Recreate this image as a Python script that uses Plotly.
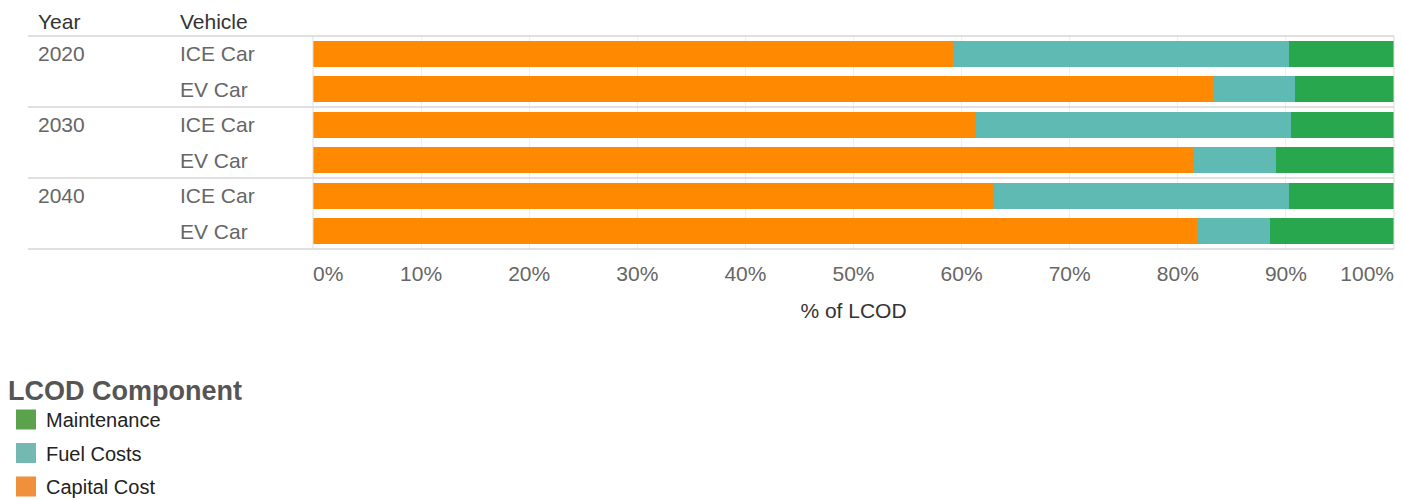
import plotly.graph_objects as go

# LCOD breakdown by year and vehicle type (% of levelised cost)
years = ["2020", "2030", "2040"]
vehicles = ["ICE Car", "EV Car"]
capital_cost = [59.2, 83.3, 61.3, 81.5, 63.0, 81.9]
fuel_costs = [31.1, 7.5, 29.2, 7.6, 27.3, 6.6]
maintenance = [9.7, 9.2, 9.5, 10.9, 9.7, 11.5]

tick_values = [0, 10, 20, 30, 40, 50, 60, 70, 80, 90, 100]
tick_labels = ["0%", "10%", "20%", "30%", "40%", "50%", "60%", "70%", "80%", "90%", "100%"]

# (name, values, bar colour, legend swatch colour) in stacking order
components = [
    ("Capital Cost", capital_cost, "#ff8900", "#f0903a"),
    ("Fuel Costs", fuel_costs, "#5ebab2", "#74b8b2"),
    ("Maintenance", maintenance, "#29a74f", "#5aa24c"),
]

FONT = "Liberation Sans"
TXT = 21
rows = [f"{y} {v}" for y in years for v in vehicles]

fig = go.Figure()
for name, vals, bar_color, _ in components:
    fig.add_trace(go.Bar(
        x=vals, y=rows, orientation="h", name=name,
        marker=dict(color=bar_color, line=dict(width=0)),
        width=0.74, showlegend=False, hoverinfo="x+name",
    ))

# legend entries with large square swatches, top entry = last stacked component;
# they also anchor the two overlay axes carrying the end tick labels
legend_axes = ["x2", "x3", "x"]
for i, (name, _, _, swatch) in enumerate(reversed(components)):
    fig.add_trace(go.Scatter(
        x=[None], y=[None], mode="markers", name=name,
        legendgroup=f"g{i}", xaxis=legend_axes[i],
        marker=dict(symbol="square", size=16, color=swatch,
                    line=dict(width=4, color=swatch)),
    ))

L, R, T, B = 313, 9, 36, 251
W, H = 1403, 500
pw = W - L - R

def px_to_paper(px):
    return (px - L) / pw

line_col = "#d6d6d6"
shapes = []
# frame lines and group separators
for yp in (0, 1):
    shapes.append(dict(type="line", xref="paper", yref="paper",
                       x0=px_to_paper(28), x1=1, y0=yp, y1=yp,
                       line=dict(color=line_col, width=1.5)))
for k in range(1, len(years)):
    sep = k * len(vehicles) - 0.5
    shapes.append(dict(type="line", xref="paper", yref="y",
                       x0=px_to_paper(28), x1=1, y0=sep, y1=sep,
                       line=dict(color=line_col, width=1.5)))
for xp in (0, 1):
    shapes.append(dict(type="line", xref="paper", yref="paper",
                       x0=xp, x1=xp, y0=0, y1=1,
                       line=dict(color="#dcdcdc", width=1)))

annotations = [
    dict(text="Year", xref="paper", yref="paper", x=px_to_paper(36), y=1,
         xanchor="left", yanchor="bottom", yshift=1, showarrow=False,
         font=dict(family=FONT, size=TXT, color="#333333")),
    dict(text="Vehicle", xref="paper", yref="paper", x=px_to_paper(178), y=1,
         xanchor="left", yanchor="bottom", yshift=1, showarrow=False,
         font=dict(family=FONT, size=TXT, color="#333333")),
]
for yr in years:
    for vi, veh in enumerate(vehicles):
        row = f"{yr} {veh}"
        if vi == 0:
            annotations.append(dict(text=yr, xref="paper", yref="y",
                                    x=px_to_paper(36), y=row, xanchor="left",
                                    showarrow=False,
                                    font=dict(family=FONT, size=TXT, color="#666666")))
        annotations.append(dict(text=veh, xref="paper", yref="y",
                                x=px_to_paper(178), y=row, xanchor="left",
                                showarrow=False,
                                font=dict(family=FONT, size=TXT, color="#666666")))

tick_font = dict(family=FONT, size=TXT, color="#666666")
common_x = dict(range=[0, 100], zeroline=False, showline=False, ticks="",
                tickfont=tick_font, ticklabelstandoff=10, fixedrange=True,
                automargin=False)

fig.update_layout(
    barmode="stack",
    width=W, height=H,
    margin=dict(l=L, r=R, t=T, b=B, pad=0),
    paper_bgcolor="white", plot_bgcolor="white",
    font=dict(family=FONT, color="#333333"),
    # inner ticks centred on their gridlines
    xaxis=dict(
        **common_x,
        tickvals=tick_values[1:-1], ticktext=tick_labels[1:-1],
        showgrid=True, gridcolor="#efefef", gridwidth=1,
        title=dict(text="% of LCOD", standoff=19,
                   font=dict(family=FONT, size=TXT, color="#333333")),
    ),
    # end ticks pulled inside the plot width
    xaxis2=dict(
        **common_x, overlaying="x", anchor="y", side="bottom",
        tickvals=tick_values[-1:], ticktext=tick_labels[-1:],
        ticklabelposition="outside left", showgrid=False,
    ),
    xaxis3=dict(
        **common_x, overlaying="x", anchor="y", side="bottom",
        tickvals=tick_values[:1], ticktext=tick_labels[:1],
        ticklabelposition="outside right", showgrid=False,
    ),
    yaxis=dict(
        categoryorder="array", categoryarray=rows,
        range=[len(rows) - 0.5, -0.5],
        showticklabels=False, showgrid=False, zeroline=False, ticks="",
        fixedrange=True, automargin=False,
    ),
    shapes=shapes,
    annotations=annotations,
    legend=dict(
        xref="container", yref="container",
        x=6 / W, xanchor="left", y=1 - 365 / H, yanchor="top",
        traceorder="grouped", tracegroupgap=4.5,
        title=dict(text="<b>LCOD Component</b>", side="top",
                   font=dict(family=FONT, size=27, color="#555555")),
        font=dict(family=FONT, size=20, color="#222222"),
        bgcolor="rgba(0,0,0,0)",
    ),
)

fig.write_html("out.html")
